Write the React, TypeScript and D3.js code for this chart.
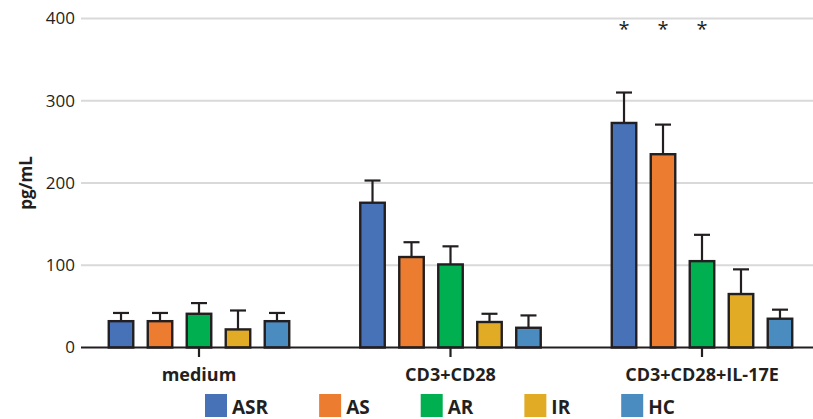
import React, { useRef, useEffect } from 'react'
import * as d3 from 'd3'

const groups = ['medium', 'CD3+CD28', 'CD3+CD28+IL-17E']
const series = ['ASR', 'AS', 'AR', 'IR', 'HC']
const colors = ['#4772b8', '#ec7d30', '#00b050', '#e1ab26', '#4a8bc0']

// mean values per series, one entry per group
const asrValues = [32, 176, 273]
const asValues = [32, 110, 235]
const arValues = [41, 101, 105]
const irValues = [22, 31, 65]
const hcValues = [32, 24, 35]

// upper end of error bars
const asrErr = [42, 203, 310]
const asErr = [42, 128, 271]
const arErr = [54, 123, 137]
const irErr = [45, 41, 95]
const hcErr = [42, 39, 46]

const yTicks = [0, 100, 200, 300, 400]
// significance marks in the last group
const sigMarks = ['*', '*', '*', '', '']

const values = [asrValues, asValues, arValues, irValues, hcValues]
const errs = [asrErr, asErr, arErr, irErr, hcErr]

const W = 813
const H = 419
const font = '"Open Sans", "Noto Sans", sans-serif'
const ink = '#231f20'

const Chart = () => {
  const ref = useRef<SVGSVGElement>(null)

  useEffect(() => {
    const svg = d3.select(ref.current)
    svg.selectAll('*').remove()

    const plotLeft = 81
    const y = d3.scaleLinear().domain([0, 400]).range([347.5, 18.5])
    const x0 = d3.scaleBand().domain(groups).range([73.25, 827.75]).paddingInner(0)
    const x1 = d3.scaleBand().domain(series).range([0, x0.bandwidth()])
      .paddingInner(0.31).paddingOuter(0.88)

    // grid
    svg.append('g').selectAll('line')
      .data(yTicks.filter(d => d > 0))
      .enter().append('line')
      .attr('x1', plotLeft).attr('x2', W)
      .attr('y1', d => y(d)).attr('y2', d => y(d))
      .attr('stroke', '#d9d9d9').attr('stroke-width', 2)

    // y tick labels
    svg.append('g').selectAll('text')
      .data(yTicks)
      .enter().append('text')
      .attr('x', 75).attr('y', d => y(d))
      .attr('dy', '0.35em')
      .attr('text-anchor', 'end')
      .attr('font-family', font).attr('font-size', 17)
      .attr('fill', ink)
      .text(d => d)

    // y label
    svg.append('text')
      .attr('transform', `translate(32, ${y(200)}) rotate(-90)`)
      .attr('text-anchor', 'middle')
      .attr('font-family', font).attr('font-size', 17).attr('font-weight', 'bold')
      .attr('fill', ink)
      .text('pg/mL')

    // bars
    const g = svg.append('g').selectAll('g')
      .data(groups)
      .enter().append('g')
      .attr('transform', d => `translate(${x0(d)},0)`)

    series.forEach((s, si) => {
      const bx = x1(s)!
      const bw = x1.bandwidth()
      const cx = bx + bw / 2
      g.append('line')
        .attr('x1', cx).attr('x2', cx)
        .attr('y1', (_, gi) => y(values[si][gi]))
        .attr('y2', (_, gi) => y(errs[si][gi]))
        .attr('stroke', ink).attr('stroke-width', 2.2)
      g.append('line')
        .attr('x1', cx - 8).attr('x2', cx + 8)
        .attr('y1', (_, gi) => y(errs[si][gi]))
        .attr('y2', (_, gi) => y(errs[si][gi]))
        .attr('stroke', ink).attr('stroke-width', 2.2)
      g.append('rect')
        .attr('x', bx + 1.2)
        .attr('width', bw - 2.4)
        .attr('y', (_, gi) => y(values[si][gi]))
        .attr('height', (_, gi) => y(0) - y(values[si][gi]))
        .attr('fill', colors[si])
        .attr('stroke', ink).attr('stroke-width', 2.4)
    })

    // significance marks on last group
    const last = groups[groups.length - 1]
    svg.append('g').selectAll('text')
      .data(sigMarks)
      .enter().append('text')
      .attr('x', (_, i) => x0(last)! + x1(series[i])! + x1.bandwidth() / 2)
      .attr('y', 36)
      .attr('text-anchor', 'middle')
      .attr('font-family', font).attr('font-size', 20)
      .attr('fill', ink)
      .text(d => d)

    // x axis
    svg.append('line')
      .attr('x1', plotLeft).attr('x2', W)
      .attr('y1', y(0)).attr('y2', y(0))
      .attr('stroke', ink).attr('stroke-width', 2.2)
    svg.append('g').selectAll('line')
      .data(groups)
      .enter().append('line')
      .attr('x1', d => x0(d)! + x0.bandwidth() / 2)
      .attr('x2', d => x0(d)! + x0.bandwidth() / 2)
      .attr('y1', y(0)).attr('y2', y(0) + 9.5)
      .attr('stroke', ink).attr('stroke-width', 2.2)
    svg.append('g').selectAll('text')
      .data(groups)
      .enter().append('text')
      .attr('x', d => x0(d)! + x0.bandwidth() / 2)
      .attr('y', 381)
      .attr('text-anchor', 'middle')
      .attr('font-family', font).attr('font-size', 18).attr('font-weight', 'bold')
      .attr('fill', ink)
      .text(d => d)

    // legend
    const legend = svg.append('g')
    let lx = 205
    series.forEach((s, i) => {
      legend.append('rect')
        .attr('x', lx).attr('y', 394)
        .attr('width', 22).attr('height', 23)
        .attr('fill', colors[i])
      const t = legend.append('text')
        .attr('x', lx + 27).attr('y', 414)
        .attr('font-family', font).attr('font-size', 19).attr('font-weight', 'bold')
        .attr('fill', ink)
        .text(s)
      const tw = (t.node() as SVGTextElement).getComputedTextLength()
      lx += 27 + tw + 51
    })
  }, [])

  return (
    <svg ref={ref} width={W} height={H}
      style={{ position: 'absolute', left: 0, top: 0, background: '#fff' }} />
  )
}

export default function App() {
  return <Chart />
}
